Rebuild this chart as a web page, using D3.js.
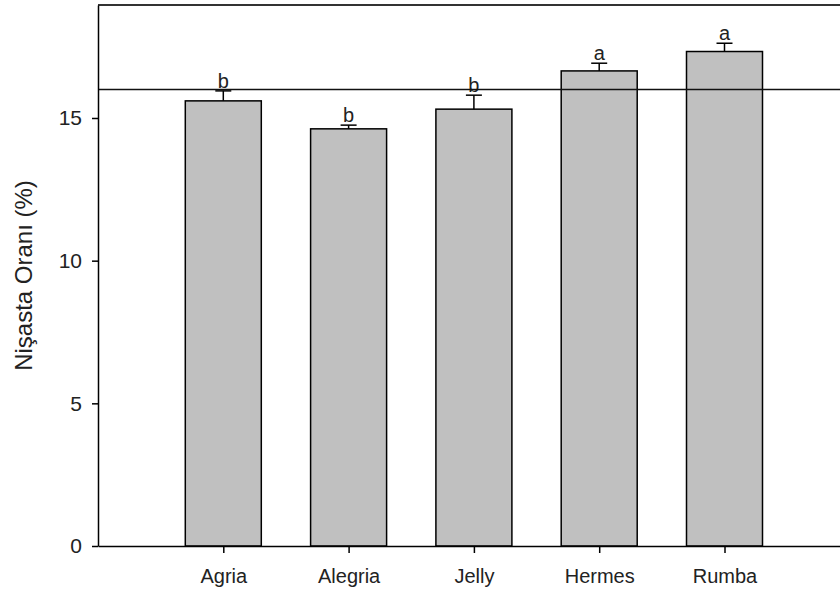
<!DOCTYPE html>
<html>
<head>
<meta charset="utf-8">
<script src="https://cdn.jsdelivr.net/npm/d3@7"></script>
<style>
  body { margin: 0; background: #fff; }
  text { font-family: "Liberation Sans", Arial, sans-serif; }
</style>
</head>
<body>
<div id="chart"></div>
<script>
// data
let categories = ["Agria", "Alegria", "Jelly", "Hermes", "Rumba"]
let means = [15.6, 14.62, 15.31, 16.65, 17.33]
let errors = [0.35, 0.13, 0.49, 0.27, 0.29]
let letters = ["b", "b", "b", "a", "a"]
let yTicks = [0, 5, 10, 15]
let refLine = 16

let width = 840, height = 594
let padLeft = 98, padTop = 5, axisBottom = 546

let svg = d3.select("#chart").append("svg")
  .attr("width", width)
  .attr("height", height)

let y = d3.scaleLinear()
  .domain([0, 18.96])
  .range([axisBottom, padTop])

// category positions 1..5, step ~125px
let x = d3.scaleLinear()
  .domain([0, 6])
  .range([padLeft, padLeft + 6 * 125.3])

let barW = 76

//bars
svg.selectAll(".bar")
  .data(categories)
  .enter().append("rect")
  .attr("class", "bar")
  .attr("x", (d, i) => x(i + 1) - barW / 2)
  .attr("y", (d, i) => y(means[i]))
  .attr("width", barW)
  .attr("height", (d, i) => axisBottom - y(means[i]))
  .attr("fill", "#c0c0c0")
  .attr("stroke", "#000")
  .attr("stroke-width", 1.5)

//error bars (upper only)
let err = svg.selectAll(".err")
  .data(categories)
  .enter().append("g")
  .attr("class", "err")
err.append("line")
  .attr("x1", (d, i) => x(i + 1)).attr("x2", (d, i) => x(i + 1))
  .attr("y1", (d, i) => y(means[i]))
  .attr("y2", (d, i) => y(means[i] + errors[i]))
  .attr("stroke", "#000").attr("stroke-width", 1.5)
err.append("line")
  .attr("x1", (d, i) => x(i + 1) - 8).attr("x2", (d, i) => x(i + 1) + 8)
  .attr("y1", (d, i) => y(means[i] + errors[i]))
  .attr("y2", (d, i) => y(means[i] + errors[i]))
  .attr("stroke", "#000").attr("stroke-width", 1.5)

//significance letters
svg.selectAll(".letter")
  .data(letters)
  .enter().append("text")
  .attr("x", (d, i) => x(i + 1))
  .attr("y", (d, i) => y(means[i] + errors[i]) - 3)
  .attr("text-anchor", "middle")
  .attr("fill", "#222")
  .style("font-size", "20px")
  .text(d => d)

//reference line
svg.append("line")
  .attr("x1", padLeft).attr("x2", width)
  .attr("y1", y(refLine)).attr("y2", y(refLine))
  .attr("stroke", "#111").attr("stroke-width", 1.5)

//frame top
svg.append("line")
  .attr("x1", padLeft).attr("x2", width)
  .attr("y1", padTop).attr("y2", padTop)
  .attr("stroke", "#333").attr("stroke-width", 2)

//axes
let yAxis = svg.append("g")
  .attr("transform", "translate(" + padLeft + ",0)")
  .call(d3.axisLeft(y).tickValues(yTicks).tickSize(6).tickPadding(10).tickSizeOuter(0))
yAxis.select(".domain").attr("stroke-width", 1.5)
yAxis.selectAll("line").attr("stroke-width", 1.5)
yAxis.selectAll("text").style("font-size", "21px").attr("fill", "#222")

let xAxis = svg.append("g")
  .attr("transform", "translate(0," + axisBottom + ")")
  .call(d3.axisBottom(x).tickValues([1, 2, 3, 4, 5])
    .tickFormat(d => categories[d - 1]).tickSize(7).tickPadding(16).tickSizeOuter(0))
xAxis.select(".domain").attr("stroke-width", 1.5)
xAxis.selectAll("line").attr("stroke-width", 1.5)
xAxis.selectAll("text").style("font-size", "20px").attr("fill", "#222")

//y label
svg.append("text")
  .attr("transform", "translate(32," + (padTop + axisBottom) / 2 + ") rotate(-90)")
  .attr("text-anchor", "middle")
  .style("font-size", "24px")
  .attr("fill", "#222")
  .text("Nişasta Oranı (%)")
</script>
</body>
</html>
